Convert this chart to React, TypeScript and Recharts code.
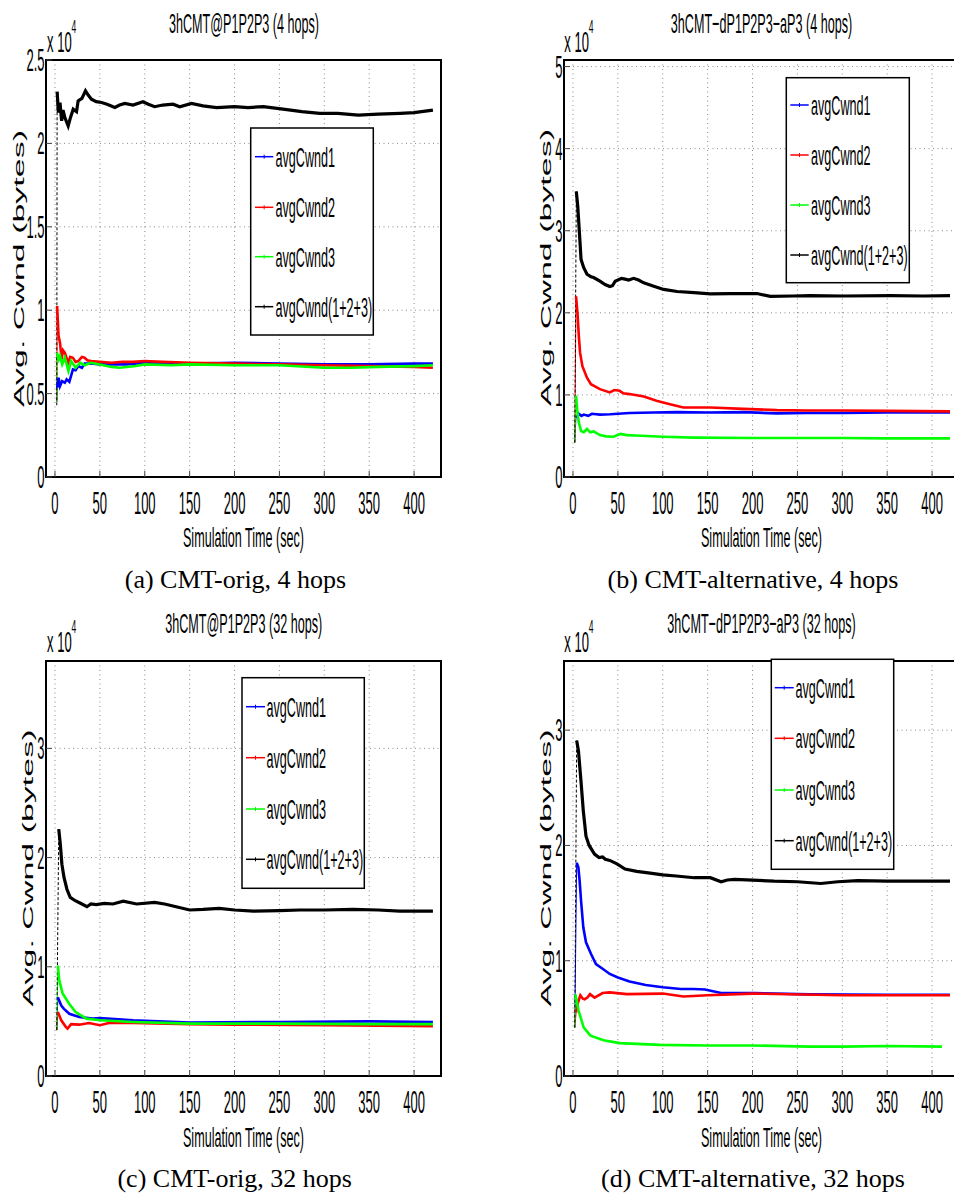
import React from "react";
import { CartesianGrid, Line, LineChart, ReferenceArea, XAxis, YAxis } from "recharts";

const SANS = '"Liberation Sans", Arial, Helvetica, sans-serif';
const SERIF = '"Liberation Serif", "Times New Roman", serif';
// the original figure is squeezed horizontally, so all its sans text is too
const SQUISH = 0.45;
const TICK_SQUISH = 0.42;
const TICK_FONT = 31;
const TEXT_FONT = 28;
const X_DOMAIN: [number, number] = [-10, 430];

const X_TICKS = [0, 50, 100, 150, 200, 250, 300, 350, 400];
const LEGEND_LABELS = ["avgCwnd1", "avgCwnd2", "avgCwnd3", "avgCwnd(1+2+3)"];
const COLORS = ["#0000ff", "#ff0000", "#00ff00", "#000000"];
const WIDTHS = [2.6, 2.6, 2.6, 3.2];

// (a) 3hCMT@P1P2P3, 4 hops  (values x 10^4 bytes)
const A_Y_TICKS = [0, 0.5, 1, 1.5, 2, 2.5];
const A_T1 = [2, 2.4, 4, 5.6, 8, 11, 13, 16, 20, 23, 26, 30, 33, 40, 50, 63, 80, 100, 150, 200, 250, 300, 350, 400, 421];
const A_CW1 = [0.45, 0.535, 0.595, 0.545, 0.575, 0.565, 0.585, 0.57, 0.645, 0.64, 0.665, 0.655, 0.68, 0.68, 0.675, 0.675, 0.675, 0.685, 0.68, 0.685, 0.68, 0.675, 0.675, 0.68, 0.68];
const A_T2 = [2, 2.4, 4, 5.6, 7.4, 9, 11, 14.7, 17, 20, 23, 26, 30, 33, 36, 40, 50, 63, 75, 87, 100, 120, 150, 200, 250, 300, 350, 400, 421];
const A_CW2 = [0.45, 1.025, 0.845, 0.805, 0.705, 0.76, 0.745, 0.685, 0.72, 0.715, 0.69, 0.695, 0.72, 0.715, 0.7, 0.695, 0.69, 0.685, 0.69, 0.69, 0.695, 0.69, 0.685, 0.68, 0.675, 0.67, 0.665, 0.66, 0.655];
const A_T3 = [2, 2.4, 4, 5.6, 8, 11, 15, 18, 23, 28, 33, 40, 50, 63, 72, 90, 100, 130, 150, 200, 250, 300, 330, 360, 400, 421];
const A_CW3 = [0.45, 0.745, 0.705, 0.725, 0.675, 0.715, 0.635, 0.695, 0.655, 0.685, 0.67, 0.685, 0.675, 0.66, 0.655, 0.665, 0.675, 0.67, 0.675, 0.67, 0.67, 0.655, 0.655, 0.66, 0.665, 0.67];
const A_TS = [2, 2.4, 3.8, 5.6, 7.4, 9, 11, 14.7, 17, 20.3, 24, 25.8, 30, 34, 37, 40.6, 46, 51.8, 58, 66.7, 72, 77.8, 87, 98, 104, 111, 120, 131.5, 139, 152, 165, 180, 200, 215, 232, 254, 275, 295, 315, 338, 360, 384.5, 400, 421];
const A_SUM = [0.43, 2.31, 2.185, 2.245, 2.135, 2.2, 2.155, 2.105, 2.15, 2.205, 2.19, 2.255, 2.27, 2.315, 2.29, 2.265, 2.25, 2.245, 2.235, 2.215, 2.23, 2.24, 2.23, 2.25, 2.235, 2.22, 2.23, 2.235, 2.22, 2.24, 2.225, 2.215, 2.22, 2.215, 2.22, 2.205, 2.19, 2.18, 2.18, 2.17, 2.175, 2.18, 2.185, 2.2];

// (b) 3hCMT-dP1P2P3-aP3, 4 hops
const B_Y_TICKS = [0, 1, 2, 3, 4, 5];
const B_T1 = [2, 3.4, 5, 6.5, 9.5, 12, 17, 21, 30, 41.6, 63, 90, 116, 150, 190, 227, 260, 301, 350, 420];
const B_CW1 = [0.42, 0.745, 0.73, 0.77, 0.745, 0.76, 0.745, 0.77, 0.76, 0.765, 0.78, 0.785, 0.79, 0.785, 0.79, 0.775, 0.78, 0.78, 0.785, 0.785];
const B_T2 = [2, 3.4, 5, 6.5, 7.9, 10.5, 15.6, 20, 30, 41, 46, 52, 56, 63, 79, 93, 108, 123, 153, 190, 227, 260, 301, 350, 420];
const B_CW2 = [0.42, 2.2, 2.0, 1.72, 1.515, 1.35, 1.21, 1.13, 1.07, 1.03, 1.06, 1.05, 1.02, 1.01, 0.98, 0.93, 0.887, 0.847, 0.847, 0.83, 0.815, 0.81, 0.81, 0.805, 0.8];
const B_T3 = [2, 3.4, 5, 6.5, 9, 12, 15.6, 19, 23, 30, 37, 45, 53, 60, 70, 100, 135, 200, 250, 300, 350, 420];
const B_CW3 = [0.42, 0.99, 0.785, 0.665, 0.56, 0.545, 0.585, 0.545, 0.555, 0.51, 0.495, 0.49, 0.525, 0.51, 0.505, 0.49, 0.48, 0.475, 0.475, 0.475, 0.47, 0.47];
const B_TS = [2, 3.7, 5.3, 7.2, 9, 12, 15.6, 20, 23, 30, 35.7, 41, 44, 47, 54, 58, 62, 67.6, 73, 78.8, 90, 101, 116, 135, 153, 175, 205, 220, 245, 264, 300, 354, 390, 420];
const B_SUM = [0.42, 3.48, 3.3, 2.97, 2.65, 2.55, 2.47, 2.44, 2.43, 2.385, 2.345, 2.32, 2.33, 2.385, 2.42, 2.41, 2.4, 2.42, 2.4, 2.365, 2.325, 2.285, 2.26, 2.245, 2.23, 2.235, 2.235, 2.2, 2.205, 2.21, 2.205, 2.21, 2.205, 2.21];

// (c) 3hCMT@P1P2P3, 32 hops
const C_Y_TICKS = [0, 1, 2, 3];
const C_T1 = [2, 3.2, 7, 10, 16, 27, 42, 50, 87, 150, 250, 350, 421];
const C_CW1 = [0.42, 0.72, 0.645, 0.615, 0.57, 0.54, 0.525, 0.53, 0.51, 0.49, 0.495, 0.5, 0.495];
const C_T2 = [2, 3.2, 7, 12, 14, 18, 27, 38, 50, 60, 87, 150, 200, 300, 421];
const C_CW2 = [0.42, 0.585, 0.51, 0.45, 0.435, 0.475, 0.47, 0.485, 0.465, 0.485, 0.485, 0.475, 0.47, 0.465, 0.455];
const C_T3 = [2, 3.2, 4.8, 8.5, 16, 23, 35, 50, 87, 150, 250, 350, 421];
const C_CW3 = [0.42, 1.01, 0.875, 0.755, 0.66, 0.585, 0.525, 0.51, 0.495, 0.48, 0.48, 0.475, 0.475];
const C_TS = [2, 4.2, 5.9, 7.7, 10, 13.3, 17, 22.6, 30, 35.6, 40, 46, 55, 64.6, 76, 91, 111, 122, 135, 150, 165, 183, 200, 221, 250, 273, 300, 332, 360, 384, 421];
const C_SUM = [0.42, 2.26, 2.125, 1.94, 1.82, 1.71, 1.635, 1.605, 1.575, 1.55, 1.575, 1.57, 1.58, 1.575, 1.6, 1.575, 1.59, 1.575, 1.55, 1.52, 1.525, 1.535, 1.52, 1.51, 1.515, 1.52, 1.52, 1.525, 1.52, 1.51, 1.51];

// (d) 3hCMT-dP1P2P3-aP3, 32 hops
const D_Y_TICKS = [0, 1, 2, 3];
const D_T1 = [2, 4.1, 6, 7.4, 9, 11.5, 14.5, 20, 25.6, 33, 41, 50, 63, 81, 100, 120, 134.5, 147, 165, 202, 264, 350, 420];
const D_CW1 = [0.42, 1.85, 1.81, 1.695, 1.52, 1.29, 1.16, 1.06, 0.97, 0.93, 0.885, 0.855, 0.82, 0.79, 0.77, 0.755, 0.755, 0.75, 0.72, 0.72, 0.708, 0.705, 0.705];
const D_T2 = [2, 3.5, 4.8, 6.3, 8.2, 11, 13, 16, 19, 24, 33, 41, 60, 100, 123, 150, 200, 300, 420];
const D_CW2 = [0.42, 0.55, 0.61, 0.655, 0.7, 0.67, 0.665, 0.68, 0.71, 0.68, 0.72, 0.725, 0.71, 0.715, 0.69, 0.7, 0.715, 0.7, 0.7];
const D_T3 = [2, 2.6, 6.3, 12, 19.5, 34, 52, 97, 150, 200, 264, 300, 350, 411];
const D_CW3 = [0.42, 0.71, 0.565, 0.42, 0.35, 0.31, 0.285, 0.27, 0.265, 0.265, 0.255, 0.255, 0.26, 0.255];
const D_TS = [2, 4.1, 6.1, 8.9, 11.5, 14.5, 18, 24, 29, 33, 36, 41, 49, 58, 71, 86, 100, 115, 135, 153, 165, 172, 180, 200, 224, 250, 276, 295, 317, 350, 390, 420];
const D_SUM = [0.42, 2.91, 2.82, 2.56, 2.3, 2.08, 2.0, 1.925, 1.895, 1.9, 1.88, 1.87, 1.84, 1.795, 1.775, 1.76, 1.745, 1.735, 1.72, 1.72, 1.685, 1.7, 1.705, 1.7, 1.69, 1.685, 1.67, 1.685, 1.695, 1.69, 1.69, 1.69];

const pts = (t: number[], v: number[]) => t.map((x, i) => ({ t: x, v: v[i] }));

const PANELS = [
  {
    id: "a", left: 0, top: 0, width: 477, plotLeft: 46, mTop: 60, mBottom: 93, yMax: 2.5, yTicks: A_Y_TICKS,
    series: [pts(A_T1, A_CW1), pts(A_T2, A_CW2), pts(A_T3, A_CW3), pts(A_TS, A_SUM)],
  },
  {
    id: "b", left: 477, top: 0, width: 500, plotLeft: 87, mTop: 60, mBottom: 93, yMax: 5.08, yTicks: B_Y_TICKS,
    series: [pts(B_T1, B_CW1), pts(B_T2, B_CW2), pts(B_T3, B_CW3), pts(B_TS, B_SUM)],
  },
  {
    id: "c", left: 0, top: 600, width: 477, plotLeft: 46, mTop: 61, mBottom: 94, yMax: 3.8, yTicks: C_Y_TICKS,
    series: [pts(C_T1, C_CW1), pts(C_T2, C_CW2), pts(C_T3, C_CW3), pts(C_TS, C_SUM)],
  },
  {
    id: "d", left: 477, top: 600, width: 500, plotLeft: 87, mTop: 61, mBottom: 94, yMax: 3.6, yTicks: D_Y_TICKS,
    series: [pts(D_T1, D_CW1), pts(D_T2, D_CW2), pts(D_T3, D_CW3), pts(D_TS, D_SUM)],
  },
];

// text and legend placement, page coordinates
const DECOR = [
  {
    title: "3hCMT@P1P2P3 (4 hops)", titleX: 244, titleY: 33, expX: 47, expY: 51.7, yLabX: 23.5, yLabY: 268.5,
    xLabX: 243.5, xLabY: 547, box: [250.7, 128, 373.3, 335], lineX: [255, 273.3], textX: 275.5,
    rows: [156.7, 207.3, 256.7, 306.7], caption: "(a) CMT-orig, 4 hops", capX: 235.5, capY: 588,
  },
  {
    title: "3hCMT\u2212dP1P2P3\u2212aP3 (4 hops)", titleX: 761.5, titleY: 33, expX: 564.3, expY: 51.7, yLabX: 551, yLabY: 267.5,
    xLabX: 761.5, xLabY: 547, box: [786.3, 77.7, 909.3, 282.7], lineX: [790.3, 808.7], textX: 811,
    rows: [105, 155, 205, 255], caption: "(b) CMT-alternative, 4 hops", capX: 753, capY: 588,
  },
  {
    title: "3hCMT@P1P2P3 (32 hops)", titleX: 243.7, titleY: 633, expX: 47, expY: 651.7, yLabX: 33, yLabY: 868,
    xLabX: 243.5, xLabY: 1146.5, box: [242, 677.7, 364.3, 888.3], lineX: [246, 265], textX: 266.5,
    rows: [706.7, 757.7, 809, 859.3], caption: "(c) CMT-orig, 32 hops", capX: 234.7, capY: 1187,
  },
  {
    title: "3hCMT\u2212dP1P2P3\u2212aP3 (32 hops)", titleX: 761.5, titleY: 633, expX: 564.3, expY: 651.7, yLabX: 551, yLabY: 868,
    xLabX: 761.5, xLabY: 1146.5, box: [771.3, 659.3, 893.7, 869.3], lineX: [774.7, 793.7], textX: 795.5,
    rows: [687.7, 738.3, 790, 840.7], caption: "(d) CMT-alternative, 32 hops", capX: 753, capY: 1187,
  },
];

function XTick(props: any) {
  const { x, y, payload } = props;
  return (
    <text transform={`translate(${x},${y + 43}) scale(${TICK_SQUISH},1)`} textAnchor="middle" fontSize={TICK_FONT} fontFamily={SANS} fill="#000">
      {payload.value}
    </text>
  );
}

function YTick(props: any) {
  const { x, y, payload } = props;
  return (
    <text transform={`translate(${x - 7.5},${y + 11}) scale(${TICK_SQUISH},1)`} textAnchor="end" fontSize={TICK_FONT} fontFamily={SANS} fill="#000">
      {payload.value}
    </text>
  );
}

function SquishText({ x, y, anchor = "start", size = TEXT_FONT, children }: any) {
  return (
    <text transform={`translate(${x},${y}) scale(${SQUISH},1)`} textAnchor={anchor} fontSize={size} fontFamily={SANS} fill="#000">
      {children}
    </text>
  );
}

function Panel({ p }: { p: (typeof PANELS)[number] }) {
  const plotW = 395;
  return (
    <div style={{ position: "absolute", left: p.left, top: p.top }}>
      <LineChart width={p.width} height={600} margin={{ top: p.mTop, right: p.width - p.plotLeft - plotW, bottom: p.mBottom, left: 0 }}>
        <CartesianGrid stroke="#8a8a8a" strokeDasharray="1 3.5" strokeWidth={1} />
        <XAxis
          type="number"
          dataKey="t"
          domain={X_DOMAIN}
          ticks={X_TICKS}
          allowDataOverflow
          axisLine={false}
          tickLine={{ stroke: "#444" }}
          tickSize={-6}
          tickMargin={0}
          height={30}
          tick={<XTick />}
          interval={0}
        />
        <YAxis
          type="number"
          domain={[0, p.yMax]}
          ticks={p.yTicks}
          allowDataOverflow
          axisLine={false}
          tickLine={{ stroke: "#444" }}
          tickSize={-6}
          tickMargin={0}
          width={p.plotLeft}
          tick={<YTick />}
          interval={0}
        />
        <ReferenceArea x1={X_DOMAIN[0]} x2={X_DOMAIN[1]} y1={0} y2={p.yMax} fill="none" fillOpacity={0} stroke="#000" strokeWidth={2} ifOverflow="visible" />
        {/* the first jump from the start value is drawn thin, as in the original */}
        {p.series.map((data, i) => (
          <Line
            key={"rise-" + LEGEND_LABELS[i]}
            data={data.slice(0, 2)}
            dataKey="v"
            type="linear"
            stroke={COLORS[i]}
            strokeWidth={1}
            strokeDasharray={i === 3 ? "3 2" : undefined}
            dot={false}
            activeDot={false}
            isAnimationActive={false}
          />
        ))}
        {p.series.map((data, i) => (
          <Line
            key={LEGEND_LABELS[i]}
            data={data.slice(1)}
            dataKey="v"
            type="linear"
            stroke={COLORS[i]}
            strokeWidth={WIDTHS[i]}
            dot={false}
            activeDot={false}
            isAnimationActive={false}
          />
        ))}
      </LineChart>
    </div>
  );
}

function Overlay() {
  return (
    <svg width={954} height={1196} style={{ position: "absolute", left: 0, top: 0, pointerEvents: "none" }}>
      {DECOR.map((d) => (
        <g key={d.caption}>
          <SquishText x={d.titleX} y={d.titleY} anchor="middle">{d.title}</SquishText>
          <SquishText x={d.expX} y={d.expY} size={29}>x 10</SquishText>
          <SquishText x={d.expX + 24.5} y={d.expY - 18.5} size={19}>4</SquishText>
          <text
            transform={`translate(${d.yLabX},${d.yLabY}) rotate(-90) scale(1,0.43)`}
            textAnchor="middle"
            fontSize={34}
            fontFamily={SANS}
            fill="#000"
          >
            Avg. Cwnd (bytes)
          </text>
          <SquishText x={d.xLabX} y={d.xLabY} anchor="middle">Simulation Time (sec)</SquishText>
          <rect x={d.box[0]} y={d.box[1]} width={d.box[2] - d.box[0]} height={d.box[3] - d.box[1]} fill="#fff" stroke="#000" strokeWidth={1.5} />
          {d.rows.map((ry, i) => {
            const mid = (d.lineX[0] + d.lineX[1]) / 2;
            return (
              <g key={LEGEND_LABELS[i]}>
                <line x1={d.lineX[0]} x2={d.lineX[1]} y1={ry} y2={ry} stroke={COLORS[i]} strokeWidth={1.5} />
                <line x1={mid} x2={mid} y1={ry - 2} y2={ry + 2} stroke={COLORS[i]} strokeWidth={1} />
                <SquishText x={d.textX} y={ry + 10}>{LEGEND_LABELS[i]}</SquishText>
              </g>
            );
          })}
          <text x={d.capX} y={d.capY} textAnchor="middle" fontSize={26} fontFamily={SERIF} fill="#000">
            {d.caption}
          </text>
        </g>
      ))}
    </svg>
  );
}

export default function App() {
  return (
    <div style={{ position: "absolute", left: 0, top: 0, width: 954, height: 1196, background: "#fff", overflow: "hidden" }}>
      {PANELS.map((p) => (
        <Panel key={p.id} p={p} />
      ))}
      <Overlay />
    </div>
  );
}
